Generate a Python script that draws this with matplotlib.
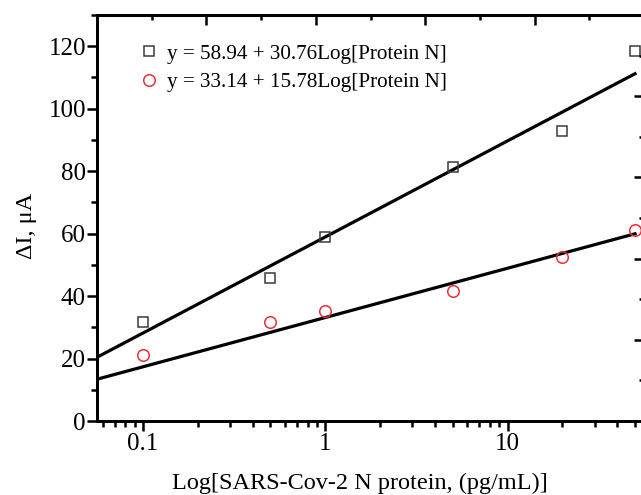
import matplotlib.pyplot as plt
import numpy as np
from matplotlib.ticker import MultipleLocator, LogLocator, NullFormatter

plt.rcParams['font.family'] = ['Liberation Serif', 'DejaVu Serif']

# data
conc = [0.1, 0.5, 1, 5, 20, 50]          # pg/mL
di_sq = [31.8, 45.9, 59.0, 81.2, 92.8, 118.4]
di_ci = [21.1, 31.8, 35.3, 41.7, 52.5, 61.3]

fit_sq = (58.94, 30.76)
fit_ci = (33.14, 15.78)
lab_sq = "y = 58.94 + 30.76Log[Protein N]"
lab_ci = "y = 33.14 + 15.78Log[Protein N]"

xmin, xmax = 0.0559, 56.0

fig = plt.figure(figsize=(6.41, 4.95), dpi=100)
ax = fig.add_axes([97/641, 1 - 421/495, 547/641, 406/495])

# fit lines from equations
xf = np.array([xmin, 50])
ax.plot(xf, fit_sq[0] + fit_sq[1]*np.log10(xf), color='black', lw=2.3, zorder=2)
ax.plot(xf, fit_ci[0] + fit_ci[1]*np.log10(xf), color='black', lw=2.3, zorder=2)

ax.plot(conc, di_sq, 's', ms=7.5, mfc='none', mec='#3a3a3a', mew=1.1, label=lab_sq, zorder=3)
ax.plot(conc, di_ci, 'o', ms=8.3, mfc='none', mec='#e8303a', mew=1.1, label=lab_ci, zorder=3)

ax.set_xscale('log')
ax.set_xlim(xmin, xmax)
ax.set_ylim(0, 130)
ax.set_xticks([0.1, 1, 10])
ax.set_xticklabels(['0.1', '1', '10'])
ax.xaxis.set_minor_locator(LogLocator(base=10, subs=np.arange(2, 10)))
ax.xaxis.set_minor_formatter(NullFormatter())
ax.yaxis.set_major_locator(MultipleLocator(20))
ax.yaxis.set_minor_locator(MultipleLocator(10))
ax.tick_params(which='major', direction='out', length=7, width=1.8, labelsize=18,
               top=False, right=False)
ax.tick_params(which='minor', direction='out', length=4, width=1.8, top=False, right=False)
ax.tick_params(axis='x', pad=2)
ax.tick_params(axis='y', pad=1)

for s in ax.spines.values():
    s.set_linewidth(2.0)

ax.set_xlabel('Log[SARS-Cov-2 N protein, (pg/mL)]', fontsize=17.5)
ax.set_ylabel('ΔI, μA', fontsize=17.5)
ax.xaxis.set_label_coords(0.481, -0.127)
ax.yaxis.set_label_coords(-0.11, 0.48)

# right side ticks (separate linear scale, no labels)
axr = ax.twinx()
axr.set_ylim(0, 5)
axr.yaxis.set_major_locator(MultipleLocator(1))
axr.yaxis.set_minor_locator(MultipleLocator(0.5))
axr.tick_params(axis='y', which='major', direction='in', length=7, width=1.8, labelright=False)
axr.tick_params(axis='y', which='minor', direction='in', length=3.5, width=1.8)
for s in axr.spines.values():
    s.set_linewidth(2.0)

# top side ticks (linear)
axt = ax.twiny()
axt.set_xscale('linear')
axt.set_xlim(0, 5)
axt.xaxis.set_major_locator(MultipleLocator(1))
axt.xaxis.set_minor_locator(MultipleLocator(0.5))
axt.tick_params(axis='x', which='major', direction='in', length=7, width=1.8, labeltop=False)
axt.tick_params(axis='x', which='minor', direction='in', length=3.5, width=1.8)
for s in axt.spines.values():
    s.set_linewidth(2.0)

ax.legend(loc='upper left', bbox_to_anchor=(0.06, 0.95), frameon=False, fontsize=15.2,
          handletextpad=0.35, handlelength=1.0, labelspacing=0.42, borderaxespad=0)

fig.savefig('out.png', dpi=100)
